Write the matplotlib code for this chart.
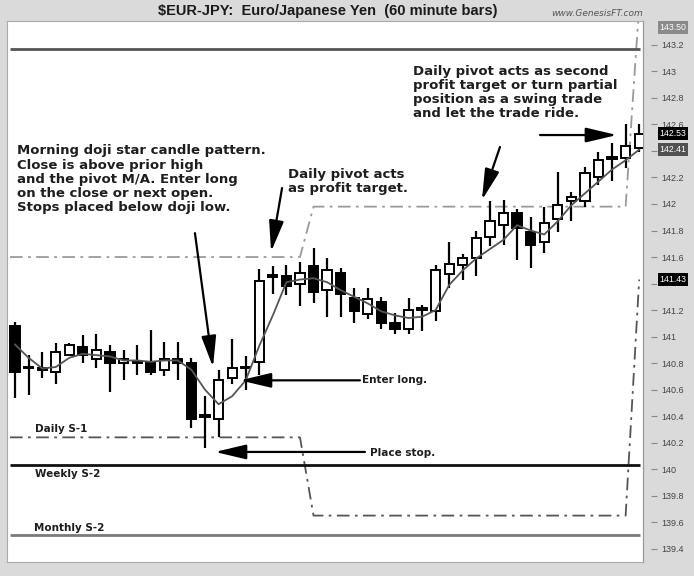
import matplotlib
matplotlib.use('Agg')
import matplotlib.pyplot as plt
import numpy as np
from matplotlib.transforms import blended_transform_factory

# ---------------- data ----------------
opens = [141.08, 140.77, 140.75, 140.73, 140.86, 140.92, 140.83, 140.88, 140.80, 140.80,
         140.81, 140.75, 140.83, 140.80, 140.41, 140.38, 140.69, 140.76, 140.81, 141.45,
         141.46, 141.40, 141.53, 141.35, 141.48, 141.29, 141.17, 141.26, 141.10, 141.06,
         141.20, 141.19, 141.47, 141.54, 141.59, 141.75, 141.84, 141.93, 141.79, 141.71,
         141.89, 142.02, 142.02, 142.20, 142.34, 142.35, 142.42]
highs = [141.11, 140.86, 140.88, 140.95, 140.95, 141.01, 141.02, 140.94, 140.90, 140.94,
         141.05, 140.96, 140.96, 140.84, 140.55, 140.75, 140.98, 140.85, 141.51, 141.53,
         141.54, 141.56, 141.67, 141.59, 141.52, 141.37, 141.37, 141.30, 141.18, 141.29,
         141.24, 141.54, 141.71, 141.62, 141.80, 142.02, 142.03, 141.96, 141.90, 141.98,
         142.24, 142.09, 142.28, 142.39, 142.46, 142.60, 142.60]
lows = [140.54, 140.56, 140.69, 140.64, 140.85, 140.80, 140.76, 140.58, 140.67, 140.71,
        140.71, 140.70, 140.67, 140.31, 140.16, 140.24, 140.64, 140.60, 140.71, 141.32,
        141.31, 141.23, 141.25, 141.15, 141.15, 141.10, 141.13, 141.06, 141.02, 141.02,
        141.04, 141.12, 141.37, 141.43, 141.46, 141.68, 141.69, 141.58, 141.52, 141.63,
        141.79, 141.87, 141.98, 142.14, 142.17, 142.27, 142.39]
closes = [140.73, 140.76, 140.76, 140.88, 140.94, 140.86, 140.90, 140.80, 140.83, 140.81,
          140.73, 140.83, 140.80, 140.38, 140.39, 140.67, 140.76, 140.77, 141.42, 141.46,
          141.38, 141.48, 141.34, 141.50, 141.32, 141.19, 141.28, 141.10, 141.06, 141.20,
          141.21, 141.50, 141.55, 141.59, 141.74, 141.87, 141.93, 141.82, 141.69, 141.86,
          141.99, 142.05, 142.23, 142.33, 142.35, 142.44, 142.53]
pivot_ma = [140.94, 140.84, 140.76, 140.77, 140.84, 140.87, 140.86, 140.85, 140.82, 140.82,
            140.81, 140.82, 140.82, 140.75, 140.60, 140.49, 140.55, 140.67, 140.93, 141.16,
            141.41, 141.43, 141.44, 141.41, 141.35, 141.30, 141.25, 141.19, 141.16, 141.14,
            141.15, 141.20, 141.39, 141.50, 141.59, 141.66, 141.73, 141.84, 141.80, 141.77,
            141.87, 141.99, 142.08, 142.17, 142.26, 142.33, 142.41]

day_start_bar = [0, 22, 46]
daily_pivot_levels = [141.60, 141.98, 143.50]
daily_s1_levels = [140.24, 139.65, 141.43]
weekly_s2 = 140.03
monthly_s2 = 139.50
upper_level = 143.17

y_ticks = [139.4, 139.6, 139.8, 140.0, 140.2, 140.4, 140.6, 140.8, 141.0, 141.2,
           141.4, 141.6, 141.8, 142.0, 142.2, 142.4, 142.6, 142.8, 143.0, 143.2]
y_tick_labels = ['139.4', '139.6', '139.8', '140', '140.2', '140.4', '140.6', '140.8',
                 '141', '141.2', '141.4', '141.6', '141.8', '142', '142.2', '142.4',
                 '142.6', '142.8', '143', '143.2']

title = "$EUR-JPY:  Euro/Japanese Yen  (60 minute bars)"
site = "www.GenesisFT.com"

# ---------------- figure ----------------
W, H = 694, 576
fig = plt.figure(figsize=(W / 100, H / 100), dpi=100, facecolor='#dadada')
ax = fig.add_axes([7 / W, 14 / H, 636 / W, 541 / H])
ax.set_facecolor('white')
ax.set_xlim(-0.59, 46.28)
ax.set_ylim(139.30, 143.38)

o = np.array(opens); h = np.array(highs); l = np.array(lows); c = np.array(closes)
x = np.arange(len(o))
n = len(o)

# step levels per bar
def per_bar(levels):
    vals = np.empty(n)
    for k, s in enumerate(day_start_bar):
        e = day_start_bar[k + 1] if k + 1 < len(day_start_bar) else n
        vals[s:e] = levels[k]
    return vals

piv = per_bar(daily_pivot_levels)
s1 = per_bar(daily_s1_levels)
xs = np.concatenate([[-0.37], x])
ax.plot(xs, np.concatenate([[piv[0]], piv]), color='#9a9a9a', lw=1.3,
        dashes=(7, 3, 1.5, 3), zorder=2)
ax.plot(xs, np.concatenate([[s1[0]], s1]), color='#555555', lw=1.3,
        dashes=(7, 3, 1.5, 3), zorder=2)

# horizontal levels
ax.hlines(upper_level, -0.37, 46.06, color='#555555', lw=2.0, zorder=2)
ax.hlines(weekly_s2, -0.37, 46.06, color='#111111', lw=2.0, zorder=2)
ax.hlines(monthly_s2, -0.37, 46.06, color='#7a7a7a', lw=2.0, zorder=2)

# candles
up = c >= o
ax.vlines(x, l, h, color='black', lw=1.6, zorder=3)
body_bottom = np.minimum(o, c)
body_h = np.maximum(np.abs(c - o), 0.012)
ax.bar(x, body_h, bottom=body_bottom, width=0.68,
       color=np.where(up, 'white', 'black'), edgecolor='black', linewidth=1.4, zorder=4)

# pivot moving average
ax.plot(x, pivot_ma, color='#555555', lw=1.3, zorder=5)

# axes styling
for side in ['top', 'left', 'bottom']:
    ax.spines[side].set_color('#aaaaaa')
    ax.spines[side].set_linewidth(0.8)
ax.spines['right'].set_position(('outward', 6))
ax.spines['right'].set_visible(False)
ax.plot([1, 1], [0, 1], transform=ax.transAxes, color='#999999', lw=0.9, clip_on=False)
ax.set_xticks([])
ax.yaxis.tick_right()
ax.set_yticks(y_ticks)
ax.set_yticklabels(y_tick_labels)
ax.tick_params(axis='y', direction='out', length=4, width=0.8, color='#888888',
               labelsize=6.5, labelcolor='#444444', pad=3)

# price boxes on the right axis
box_values = [closes[-1], pivot_ma[-1], daily_s1_levels[-1]]
for t, v in zip(ax.get_yticklabels(), y_ticks):
    t.set_family(['Liberation Sans', 'DejaVu Sans'])
    if any(abs(v - b) < 0.045 for b in box_values):
        t.set_visible(False)   # hidden behind the price box in the reference

tr = blended_transform_factory(ax.transAxes, ax.transData)
box_font = dict(fontsize=6.3, color='white', ha='left', va='center', clip_on=False,
                family=['Liberation Sans', 'DejaVu Sans'], zorder=10)
top_y = ax.get_ylim()[1]
ax.text(1.026, min(daily_pivot_levels[-1], top_y - 0.05), f"{daily_pivot_levels[-1]:.2f}",
        transform=tr, bbox=dict(boxstyle='square,pad=0.2', fc='#8a8a8a', ec='none'), **box_font)
ax.text(1.026, closes[-1], f"{closes[-1]:.2f}", transform=tr,
        bbox=dict(boxstyle='square,pad=0.2', fc='black', ec='none'), **box_font)
ax.text(1.026, pivot_ma[-1], f"{pivot_ma[-1]:.2f}", transform=tr,
        bbox=dict(boxstyle='square,pad=0.2', fc='#505050', ec='none'), **box_font)
ax.text(1.026, daily_s1_levels[-1], f"{daily_s1_levels[-1]:.2f}", transform=tr,
        bbox=dict(boxstyle='square,pad=0.2', fc='black', ec='none'), **box_font)

# titles
fig.text(328 / W, 1 - 11 / H, title, ha='center', va='center', fontsize=10.5,
         fontweight='bold', color='#1a1a1a', family=['Liberation Sans', 'DejaVu Sans'])
fig.text(597 / W, 1 - 13 / H, site, ha='center', va='center', fontsize=6.5,
         style='italic', color='#555555')

# annotations
big = dict(fontsize=9.5, fontweight='bold', color='#1e1e1e', va='top', ha='left',
           linespacing=1.12, zorder=8)
small = dict(fontsize=7.5, fontweight='bold', color='#1e1e1e', va='center', ha='left', zorder=8)

ax.text(0.15, 142.45, "Morning doji star candle pattern.\nClose is above prior high\n"
        "and the pivot M/A. Enter long\non the close or next open.\n"
        "Stops placed below doji low.", **big)
ax.text(20.12, 142.27, "Daily pivot acts\nas profit target.", **big)
ax.text(29.33, 143.05, "Daily pivot acts as second\nprofit target or turn partial\n"
        "position as a swing trade\nand let the trade ride.", **big)
ax.text(25.57, 140.67, "Enter long.", **small)
ax.text(26.16, 140.12, "Place stop.", **small)
ax.text(1.47, 140.30, "Daily S-1", **small)
ax.text(1.47, 139.96, "Weekly S-2", **small)
ax.text(1.40, 139.56, "Monthly S-2", **small)

arrow = dict(arrowstyle='-|>,head_length=1.9,head_width=0.45', color='black', lw=1.6,
             mutation_scale=10, shrinkA=0, shrinkB=0)
arrows = [((13.26, 141.78), (14.59, 140.77)),
          ((19.68, 142.12), (18.87, 141.64)),
          ((35.74, 142.43), (34.41, 142.03)),
          ((38.69, 142.52), (44.36, 142.52)),
          ((25.42, 140.67), (16.58, 140.67)),
          ((25.79, 140.13), (14.74, 140.13))]
for start, tip in arrows:
    ax.annotate('', xy=tip, xytext=start, arrowprops=arrow, zorder=9)

fig.savefig('out.png', dpi=100, facecolor=fig.get_facecolor())
